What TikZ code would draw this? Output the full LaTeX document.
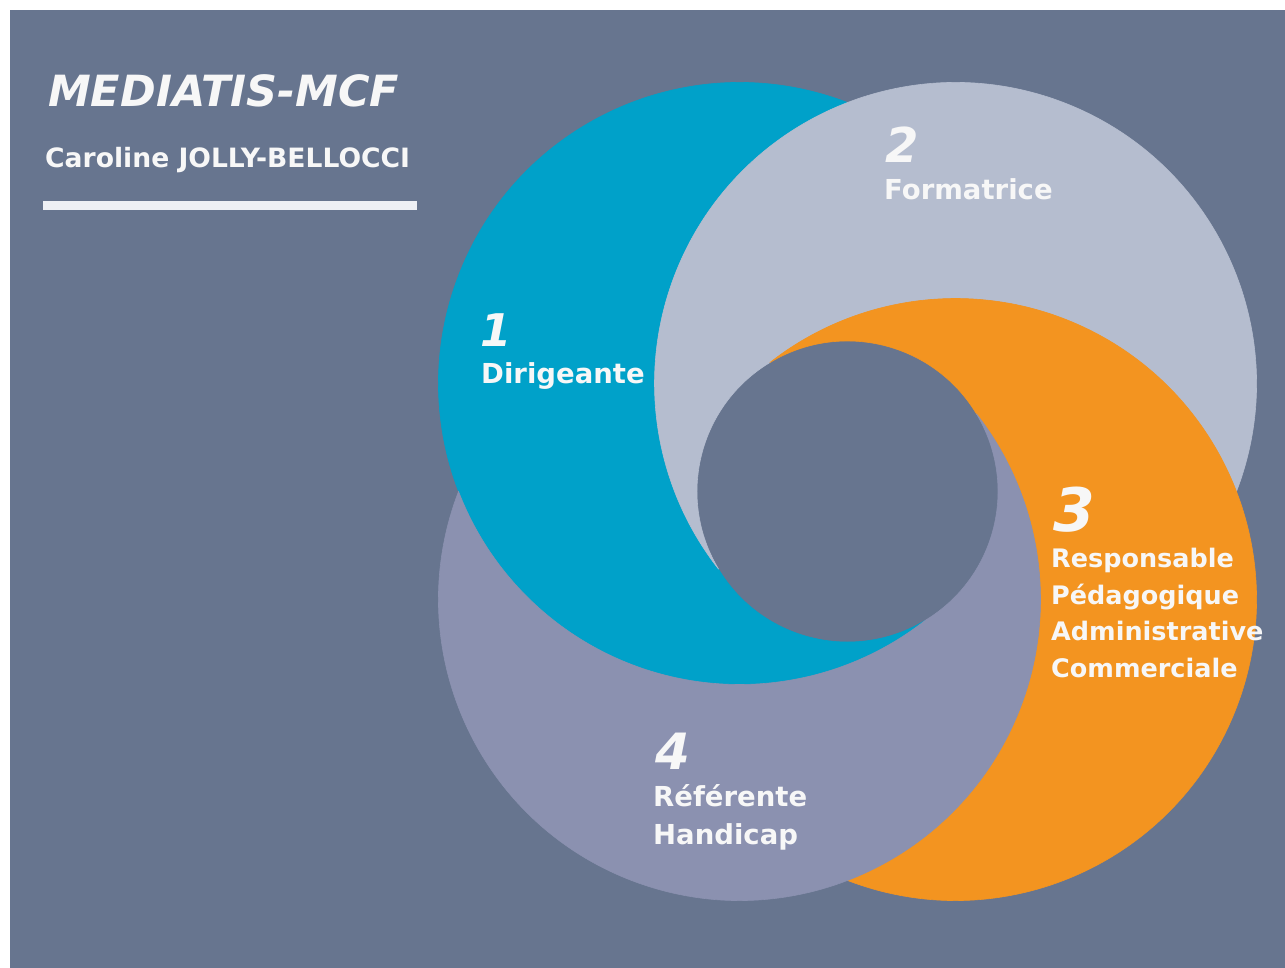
\documentclass[tikz,border=0pt]{standalone}
\usepackage{fontspec}
\setmainfont{DejaVu Sans}
\definecolor{bg}{HTML}{67758F}
\definecolor{cblue}{HTML}{00A1C9}
\definecolor{cgray}{HTML}{B5BDCF}
\definecolor{corange}{HTML}{F39420}
\definecolor{clav}{HTML}{8B91B0}
\definecolor{txt}{HTML}{F7F7F7}
\definecolor{bar}{HTML}{EEF0F5}
\tikzset{
  txtbase/.style={anchor=base west, inner sep=0pt, text=txt},
  title/.style={txtbase, font=\fontsize{43}{48}\selectfont\bfseries\itshape},
  subtitle/.style={txtbase, font=\fontsize{26.6}{30}\selectfont\bfseries},
  num/.style={txtbase, font=\fontsize{#1}{#1}\selectfont\bfseries\itshape},
  lab/.style={txtbase, font=\fontsize{27.5}{32}\selectfont\bfseries},
  labsmall/.style={txtbase, font=\fontsize{25.5}{30}\selectfont\bfseries},
}
\begin{document}
\begin{tikzpicture}[x=1pt,y=1pt]
\useasboundingbox (0,0) rectangle (1285,968);
\fill[white] (0,0) rectangle (1285,968);
\fill[bg] (10,0) rectangle (1285,958);
\coordinate (c) at (847.5,476.5);
% four swirl pieces: circle minus next circle minus hole, rotated copies
\foreach \k/\col in {0/cblue,1/cgray,2/corange,3/clav}{
  \begin{scope}[shift={(c)}, rotate=-90*\k]
    \fill[\col, draw=\col, line width=0.6pt]
      (-108,108) ++(68.97:301)
      arc[start angle=68.97, end angle=308.09, radius=301]
      arc[start angle=301.08, end angle=211.08, radius=150.5]
      arc[start angle=218.09, end angle=111.03, radius=301] -- cycle;
  \end{scope}
}
% header
\node[title] (t1) at (48,861) {MEDIATIS-MCF};
\node[subtitle] (t2) at (45,800) {Caroline JOLLY-BELLOCCI};
\fill[bar] (43,758) rectangle (417,767);
% labels
\node[num=45] (n1) at (480,621) {1};
\node[lab] (l1) at (481,584) {Dirigeante};
\node[num=48] (n2) at (885,805) {2};
\node[lab] (l2) at (884,768) {Formatrice};
\node[num=60] (n3) at (1053,436) {3};
\node[labsmall] (l3a) at (1051,400) {Responsable};
\node[labsmall] (l3b) at (1051,363.5) {Pédagogique};
\node[labsmall] (l3c) at (1051,327) {Administrative};
\node[labsmall] (l3d) at (1051,290.5) {Commerciale};
\node[num=50] (n4) at (655,198) {4};
\node[lab] (l4a) at (653,161) {Référente};
\node[lab] (l4b) at (653,123) {Handicap};
\end{tikzpicture}
\end{document}
